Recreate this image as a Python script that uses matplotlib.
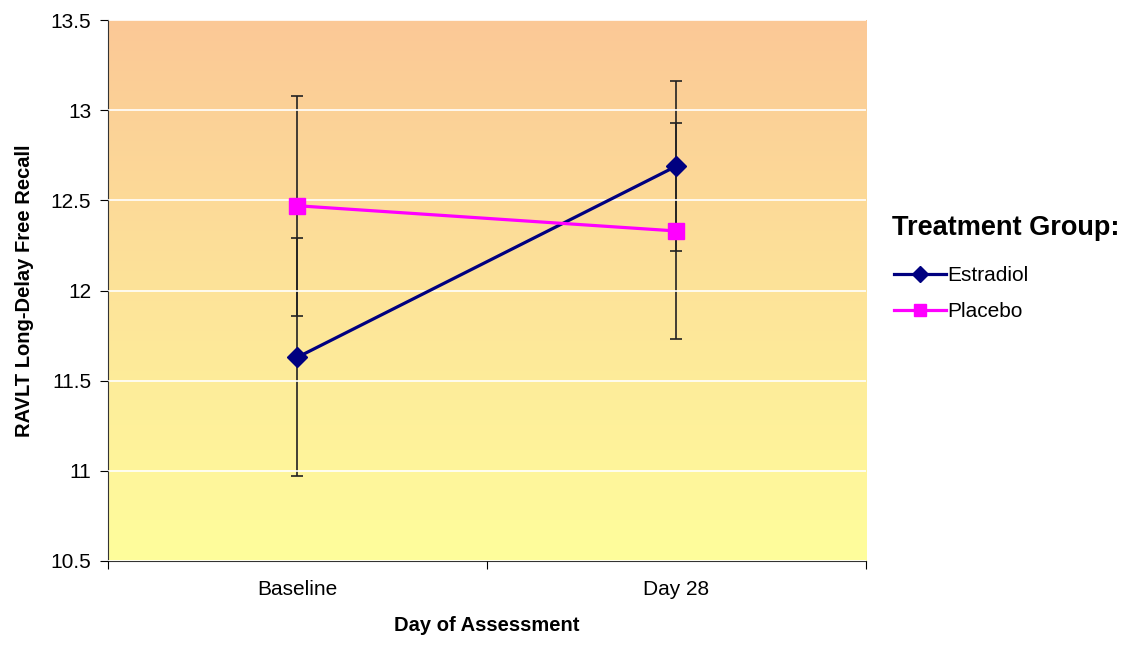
import matplotlib.pyplot as plt
import numpy as np
from matplotlib.colors import LinearSegmentedColormap

plt.rcParams['font.family'] = ['Liberation Sans', 'DejaVu Sans']

days = ['Baseline', 'Day 28']
estradiol = [11.63, 12.69]
estradiol_err = [0.66, 0.47]
placebo = [12.47, 12.33]
placebo_err = [0.61, 0.60]

fig = plt.figure(figsize=(11.39, 6.46), dpi=100)
ax = fig.add_axes([0.0948, 0.1316, 0.6655, 0.8374])

# background gradient, orange at top to pale yellow at bottom
cmap = LinearSegmentedColormap.from_list('bg', ['#fffe9c', '#fbc896'])
grad = np.linspace(0, 1, 256).reshape(-1, 1)
ax.imshow(grad, aspect='auto', cmap=cmap, origin='lower',
          extent=[-0.5, 1.5, 10.5, 13.5], zorder=0)

x = np.arange(len(days))
ax.errorbar(x, estradiol, yerr=estradiol_err, fmt='none', ecolor='#222222',
            elinewidth=1.2, capsize=4.5, capthick=1.2, zorder=2)
ax.errorbar(x, placebo, yerr=placebo_err, fmt='none', ecolor='#222222',
            elinewidth=1.2, capsize=4.5, capthick=1.2, zorder=2)
ax.plot(x, estradiol, color='#000080', lw=2.3, marker='D', ms=10,
        label='Estradiol', zorder=3)
ax.plot(x, placebo, color='#ff00ff', lw=2.3, marker='s', ms=11.5,
        label='Placebo', zorder=3)

ax.set_xlim(-0.5, 1.5)
ax.set_ylim(10.5, 13.5)
ax.set_yticks([10.5, 11, 11.5, 12, 12.5, 13, 13.5])
ax.set_yticklabels(['10.5', '11', '11.5', '12', '12.5', '13', '13.5'])
ax.yaxis.grid(True, color='white', lw=1.2, zorder=1)
ax.set_axisbelow(False)

ax.set_xticks([-0.5, 0.5, 1.5])
ax.set_xticklabels([])
ax.set_xticks(x, minor=True)
ax.set_xticklabels(days, minor=True)
ax.tick_params(axis='x', which='minor', length=0, pad=14, labelsize=15)
ax.tick_params(axis='x', which='major', length=6, direction='out')
ax.tick_params(axis='y', labelsize=15, length=6, direction='out', pad=6)

for s in ['top', 'right']:
    ax.spines[s].set_visible(False)
ax.spines['left'].set_color('#333333')
ax.spines['bottom'].set_color('#333333')

ax.set_xlabel('Day of Assessment', fontsize=14.5, fontweight='bold', labelpad=12)
ax.set_ylabel('RAVLT Long-Delay Free Recall', fontsize=14.5, fontweight='bold', labelpad=12)

fig.text(0.783, 0.647, 'Treatment Group:', fontsize=19.5, fontweight='bold',
         ha='left', va='center')
leg = fig.legend(loc='upper left', bbox_to_anchor=(0.768, 0.617), frameon=False,
                 fontsize=15, handlelength=2.5, handletextpad=0.1,
                 labelspacing=0.82)
for h in leg.legend_handles:
    h.set_markersize(8)

fig.savefig('out.png', dpi=100)
